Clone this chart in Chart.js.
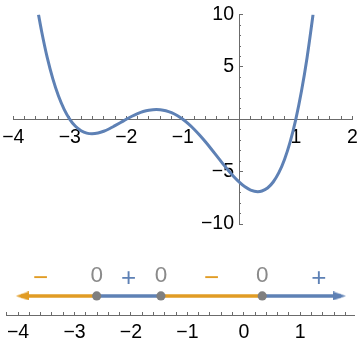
<!DOCTYPE html>
<html lang="en">
<head>
<meta charset="utf-8">
<title>f(x) and sign line of f'(x)</title>
<script src="https://cdn.jsdelivr.net/npm/chart.js"></script>
<style>
  body { margin: 0; background: #fff; }
  #wrap { position: relative; width: 360px; height: 352px; }
  #top { position: absolute; left: 0; top: 0; }
  #bottom { position: absolute; left: 0; top: 240px; }
</style>
</head>
<body>
<div id="wrap">
  <canvas id="top" width="360" height="240"></canvas>
  <canvas id="bottom" width="360" height="112"></canvas>
</div>
<script>
// curve
const curveX = [-3.554, -3.5, -3.4, -3.3, -3.2, -3.1, -3.0, -2.9, -2.8, -2.7, -2.607, -2.5, -2.4, -2.3, -2.2, -2.1,
  -2.0, -1.9, -1.8, -1.7, -1.6, -1.469, -1.4, -1.3, -1.2, -1.1, -1.0, -0.9, -0.8, -0.7, -0.6, -0.5, -0.4, -0.3,
  -0.2, -0.1, 0, 0.1, 0.2, 0.326, 0.4, 0.5, 0.6, 0.7, 0.8, 0.9, 1.0, 1.1, 1.2, 1.3, 1.305];
const curveY = [10.0, 8.44, 5.91, 3.86, 2.22, 0.95, 0, -0.67, -1.09, -1.32, -1.38, -1.31, -1.14, -0.90, -0.61, -0.31,
  0, 0.29, 0.54, 0.74, 0.87, 0.94, 0.92, 0.82, 0.63, 0.36, 0, -0.44, -0.95, -1.53, -2.15, -2.81, -3.49, -4.18,
  -4.84, -5.46, -6.0, -6.45, -6.76, -6.91, -6.85, -6.56, -5.99, -5.10, -3.83, -2.15, 0, 2.67, 5.91, 9.79, 10.0];
const topXTicks = [-4, -3, -2, -1, 1, 2];
const topYTicks = [-10, -5, 5, 10];

// sign line below
const critX = [-2.607, -1.469, 0.326];
const lineEnds = [-3.95, 1.72];
const signs = ['\u2212', '+', '\u2212', '+'];
const signX = [-3.6, -2.04, -0.57, 1.33];
const bottomXTicks = [-4, -3, -2, -1, 0, 1];

const BLUE = '#5E81B5';
const ORANGE = '#E19C24';
const AXIS = '#6b6b6b';
const DOT = '#7f7f7f';
const ZERO = '#8a8a8a';
const FONT = '"Liberation Sans", Arial, sans-serif';

Chart.defaults.font.family = FONT;
Chart.defaults.font.size = 19.5;
Chart.defaults.color = '#000';

const fmt = v => (v < 0 ? '\u2212' + Math.abs(v) : String(v));
const steps = (a, b, d) => {
  const out = [];
  for (let i = Math.round(a / d); i <= Math.round(b / d); i++) out.push({ value: +(i * d).toFixed(4) });
  return out;
};

// axis line + tick marks (ticks point inwards via negative length)
function tickAxis(min, max, pos, ticksArr, tickLen, border) {
  return {
    type: 'linear', min, max, position: pos,
    afterBuildTicks: s => { s.ticks = ticksArr; },
    grid: { drawOnChartArea: false, color: AXIS, tickLength: tickLen, tickWidth: 1 },
    border: { display: border, color: AXIS, width: 1 },
    ticks: { display: false, autoSkip: false }
  };
}
// tick labels only
function labelAxis(min, max, pos, ticksArr) {
  return {
    type: 'linear', min, max, position: pos,
    afterBuildTicks: s => { s.ticks = ticksArr; },
    grid: { display: false, drawTicks: false },
    border: { display: false },
    ticks: { autoSkip: false, maxRotation: 0, padding: 0, callback: v => fmt(v) }
  };
}

new Chart(document.getElementById('top'), {
  type: 'line',
  data: {
    datasets: [{
      data: curveX.map((x, i) => ({ x, y: curveY[i] })),
      borderColor: BLUE, borderWidth: 3, pointRadius: 0,
      cubicInterpolationMode: 'monotone', xAxisID: 'x', yAxisID: 'y'
    }]
  },
  options: {
    responsive: false, animation: false,
    layout: { padding: { left: 13.3, right: 7.7, top: 14.6, bottom: 16 } },
    plugins: { legend: { display: false }, tooltip: { enabled: false } },
    scales: {
      x: tickAxis(-4, 2, { y: 0 }, steps(-4, 2, 1), -4, true),
      xMinor: tickAxis(-4, 2, { y: 0 }, steps(-4, 2, 0.2), -3, false),
      xLab: labelAxis(-4, 2, { y: -0.6 }, topXTicks.map(v => ({ value: v }))),
      y: tickAxis(-10, 10, { x: 0 }, steps(-10, 10, 5), -4, true),
      yMinor: tickAxis(-10, 10, { x: 0 }, steps(-10, 10, 1), -2, false),
      yLab: labelAxis(-10, 10, { x: -0.094 }, topYTicks.map(v => ({ value: v })))
    }
  }
});

function arrowHead(color, dir) {
  const c = document.createElement('canvas');
  c.width = 16; c.height = 9;
  const g = c.getContext('2d');
  g.fillStyle = color;
  g.beginPath();
  if (dir > 0) { g.moveTo(0, 0); g.lineTo(13, 4.5); g.lineTo(0, 9); }
  else { g.moveTo(16, 0); g.lineTo(3, 4.5); g.lineTo(16, 9); }
  g.closePath();
  g.fill();
  return c;
}

const signLabels = {
  id: 'signLabels',
  afterDatasetsDraw(chart) {
    const { ctx, scales: { x, y } } = chart;
    const lineY = y.getPixelForValue(0);
    ctx.save();
    ctx.textAlign = 'center';
    ctx.textBaseline = 'alphabetic';
    ctx.font = '22.5px ' + FONT;
    ctx.fillStyle = ZERO;
    critX.forEach(v => ctx.fillText('0', x.getPixelForValue(v), lineY - 14));
    ctx.font = '26px ' + FONT;
    signs.forEach((s, i) => {
      ctx.fillStyle = s === '+' ? BLUE : ORANGE;
      ctx.fillText(s, x.getPixelForValue(signX[i]), lineY - 10);
    });
    ctx.restore();
  }
};

const linePts = [lineEnds[0], ...critX, lineEnds[1]];

new Chart(document.getElementById('bottom'), {
  type: 'line',
  data: {
    datasets: [
      {
        data: critX.map(x => ({ x, y: 0 })),
        showLine: false, pointRadius: 4.6, pointBackgroundColor: DOT, pointBorderWidth: 0, order: 0
      },
      {
        data: lineEnds.map(x => ({ x, y: 0 })),
        showLine: false, pointRadius: 5,
        pointStyle: [arrowHead(ORANGE, -1), arrowHead(BLUE, 1)], order: 1
      },
      {
        data: linePts.map(x => ({ x, y: 0 })),
        borderWidth: 3.4, pointRadius: 0, tension: 0, borderCapStyle: 'butt',
        segment: { borderColor: c => (signs[c.p0DataIndex] === '+' ? BLUE : ORANGE) }, order: 2
      }
    ]
  },
  options: {
    responsive: false, animation: false,
    layout: { padding: { left: 0, right: 3, top: 0, bottom: 37 } },
    plugins: { legend: { display: false }, tooltip: { enabled: false } },
    scales: {
      x: tickAxis(-4.214, 1.952, { y: -1 }, steps(-4, 1, 1), -3, true),
      xMinor: tickAxis(-4.214, 1.952, { y: -1 }, steps(-4.2, 1.8, 0.2), -3, false),
      xLab: labelAxis(-4.214, 1.952, { y: -1.329 }, bottomXTicks.map(v => ({ value: v }))),
      y: { type: 'linear', min: -1, max: 2.623, display: false }
    }
  },
  plugins: [signLabels]
});
</script>
</body>
</html>
